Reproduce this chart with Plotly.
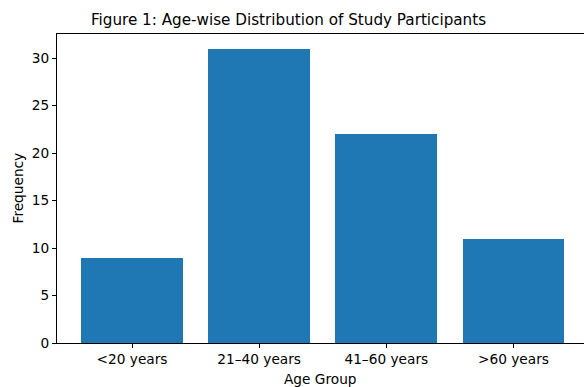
import plotly.graph_objects as go

categories = ["<20 years", "21–40 years", "41–60 years", ">60 years"]
frequency = [9, 31, 22, 11]
y_ticks = [0, 5, 10, 15, 20, 25, 30]

W, H = 584, 387
L, R, T, B = 57, 0, 34, 44
PW, PH = W - L - R, H - T - B

fig = go.Figure(go.Bar(
    x=list(range(len(categories))), y=frequency,
    width=0.8, marker=dict(color="#1f77b4", line=dict(width=0)),
))
font = "DejaVu Sans"
fs = 13.7
fig.update_layout(
    width=W, height=H,
    margin=dict(l=L, r=R, t=T, b=B, autoexpand=False),
    paper_bgcolor="white", plot_bgcolor="white",
    font=dict(family=font, size=fs, color="black"),
    title=dict(text="Figure 1: Age-wise Distribution of Study Participants",
               x=288.5 / W, xanchor="center", xref="container", y=1 - 20 / H, yanchor="middle",
               font=dict(size=15.2, family=font, color="black")),
    showlegend=False,
    bargap=0,
)
fig.add_annotation(text="Age Group", xref="paper", x=(320 - L) / PW, yref="paper", y=(343 - 379) / PH,
                   showarrow=False, xanchor="center", yanchor="middle", font=dict(size=fs))
fig.add_annotation(text="Frequency", xref="paper", x=(17 - L) / PW, yref="paper", y=0.5,
                   showarrow=False, textangle=-90, xanchor="center", yanchor="middle",
                   font=dict(size=fs))
fig.update_xaxes(
    range=[-0.59, 3.555], tickvals=list(range(len(categories))), ticktext=categories,
    showline=True, linecolor="black", linewidth=1, mirror=True,
    ticks="outside", ticklen=4, tickcolor="black", showgrid=False, zeroline=False,
    automargin=False,
)
fig.update_yaxes(
    range=[0, 32.55], tickvals=y_ticks,
    showline=True, linecolor="black", linewidth=1, mirror=False,
    ticks="outside", ticklen=4, tickcolor="black", showgrid=False, zeroline=False,
    automargin=False,
)
fig.write_html("out.html", config={"displayModeBar": False},
               post_script="document.body.style.margin='0';document.body.style.overflow='hidden';")
